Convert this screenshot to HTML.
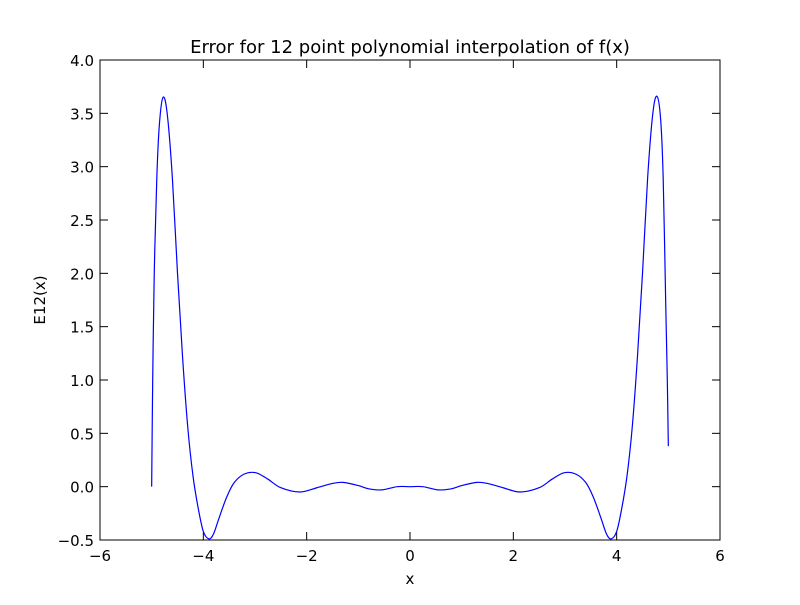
<!DOCTYPE html>
<html><head><meta charset="utf-8"><style>
html,body{margin:0;padding:0;background:#fff;}
svg text{font-family:"DejaVu Sans","Liberation Sans",sans-serif;fill:#000;}
</style></head><body>
<svg id="chart" width="800" height="600" xmlns="http://www.w3.org/2000/svg">
<rect width="800" height="600" fill="#fff"/>
<g id="ticks"></g>
<path id="line" fill="none" stroke="#0000ff" stroke-width="1.2"/>
<rect x="100" y="60" width="620" height="480" fill="none" stroke="#000" stroke-width="1"/>
<text x="410" y="53" text-anchor="middle" font-size="18">Error for 12 point polynomial interpolation of f(x)</text>
<text x="410" y="584" text-anchor="middle" font-size="15">x</text>
<text transform="translate(45,300) rotate(-90)" text-anchor="middle" font-size="15">E12(x)</text>
</svg>
<script>
const xs=[-5,-4.98,-4.95,-4.9,-4.85,-4.78,-4.7,-4.6,-4.5,-4.4,-4.3,-4.2,-4.1,-4.0,-3.89,-3.8,-3.7,-3.55,-3.4,-3.2,-2.98,-2.75,-2.5,-2.13,-1.8,-1.5,-1.3,-1.0,-0.8,-0.54,-0.25,0,0.25,0.54,0.8,1.0,1.3,1.5,1.8,2.13,2.5,2.75,2.98,3.2,3.4,3.55,3.7,3.8,3.89,4.0,4.1,4.2,4.3,4.4,4.5,4.6,4.7,4.78,4.85,4.9,4.95,4.98,5.0];
const ys=[0,1.0,2.0,2.9,3.4,3.65,3.5,2.9,2.0,1.2,0.55,0.1,-0.2,-0.42,-0.49,-0.44,-0.3,-0.1,0.04,0.12,0.13,0.07,-0.01,-0.05,-0.01,0.03,0.04,0.01,-0.02,-0.03,0.0,0.0,0.0,-0.03,-0.02,0.01,0.04,0.03,-0.01,-0.05,-0.01,0.07,0.13,0.12,0.04,-0.1,-0.3,-0.44,-0.49,-0.42,-0.2,0.1,0.55,1.2,2.0,2.9,3.5,3.66,3.45,2.9,1.7,1.0,0.38];
const xTicks=[-6,-4,-2,0,2,4,6];
const xTickLabels=["\u22126","\u22124","\u22122","0","2","4","6"];
const yTicks=[-0.5,0,0.5,1,1.5,2,2.5,3,3.5,4];
const yTickLabels=["\u22120.5","0.0","0.5","1.0","1.5","2.0","2.5","3.0","3.5","4.0"];
const X=v=>100+(v+6)/12*620, Y=v=>540-(v+0.5)/4.5*480;
const NS="http://www.w3.org/2000/svg", g=document.getElementById('ticks');
function ln(x1,y1,x2,y2){const l=document.createElementNS(NS,'line');l.setAttribute('x1',x1);l.setAttribute('y1',y1);l.setAttribute('x2',x2);l.setAttribute('y2',y2);l.setAttribute('stroke','#000');


g.appendChild(l);}
function tx(x,y,s,a){const t=document.createElementNS(NS,'text');t.setAttribute('x',x);t.setAttribute('y',y);t.setAttribute('text-anchor',a);t.setAttribute('font-size','15');t.textContent=s;


g.appendChild(t);}
xTicks.forEach((v,i)=>{const x=X(v);ln(x,540,x,532);ln(x,60,x,68);tx(x,561,xTickLabels[i],'middle');});
yTicks.forEach((v,i)=>{const y=Y(v);ln(100,y,108,y);ln(720,y,712,y);tx(94,y+6,yTickLabels[i],'end');});
const P=xs.map((v,i)=>[X(v),Y(ys[i])]);
let d='M'+P[0][0]+','+P[0][1];
for(let i=0;i<P.length-1;i++){const p0=P[Math.max(0,i-1)],p1=P[i],p2=P[i+1],p3=P[Math.min(P.length-1,i+2)];
const c1=[p1[0]+(p2[0]-p0[0])/6,p1[1]+(p2[1]-p0[1])/6],c2=[p2[0]-(p3[0]-p1[0])/6,p2[1]-(p3[1]-p1[1])/6];
d+=' C'+c1+' '+c2+' '+p2;}
document.getElementById('line').setAttribute('d',d);
</script>
</body></html>
